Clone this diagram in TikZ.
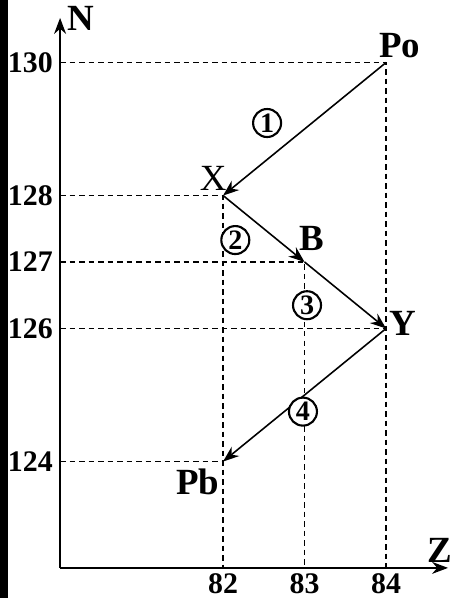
\documentclass[tikz,border=0pt]{standalone}
\usepackage{fontspec}
\setmainfont{Liberation Serif}
\usetikzlibrary{arrows.meta}

\begin{document}
\begin{tikzpicture}[x=1.63cm,y=1.33cm,
   axis/.style={-{Stealth[length=3.2mm,width=2.4mm]},line width=0.8pt},
   decay/.style={-{Stealth[length=3.2mm,width=2.4mm]},line width=0.9pt},
   guide/.style={dash pattern=on 0.11cm off 0.08cm,line width=0.95pt},
   tag/.style={font=\fontsize{21}{23}\selectfont\bfseries,inner sep=0pt},
   tick/.style={font=\fontsize{17}{19}\selectfont\bfseries,inner sep=0pt},
   stepnum/.style={draw,circle,fill=white,line width=1.2pt,minimum size=0.56cm,inner sep=0pt,font=\fontsize{16}{18}\selectfont\bfseries}]

   \useasboundingbox (79.2638,121.9489) rectangle (84.7853,130.9414);
   \fill[black] (79.2638,121.9489) rectangle (79.3620,130.9414);

   % axes
   \coordinate (O) at (80,122.4);
   \coordinate (Ntop) at (80,130.67);
   \coordinate (Zend) at (84.76,122.4);
   \draw[axis] (O) -- (Ntop);
   \draw[axis] (O) -- (Zend);
   \node[tag] (Nlab) at (80.25,130.67) {N};
   \node[tag] (Zlab) at (84.66,122.67) {Z};

   % nuclides
   \coordinate (Po) at (84,130);
   \coordinate (X) at (82,128);
   \coordinate (B) at (83,127);
   \coordinate (Y) at (84,126);
   \coordinate (Pb) at (82,124);

   \draw[guide] (O |- Po) -- (Po) -- (O -| Po);
   \draw[guide] (O |- X) -- (X) -- (O -| X);
   \draw[guide] (O |- B) -- (B) -- (O -| B);
   \draw[guide] (O |- Y) -- (Y);
   \draw[guide] (O |- Pb) -- (Pb);

   \node[tick,anchor=east] (n130) at ([xshift=-0.14cm]O |- Po) {130};
   \node[tick,anchor=east] (n128) at ([xshift=-0.14cm]O |- X) {128};
   \node[tick,anchor=east] (n127) at ([xshift=-0.14cm]O |- B) {127};
   \node[tick,anchor=east] (n126) at ([xshift=-0.14cm]O |- Y) {126};
   \node[tick,anchor=east] (n124) at ([xshift=-0.14cm]O |- Pb) {124};
   \node[tick] (z82) at ([yshift=-0.31cm]O -| X) {82};
   \node[tick] (z83) at ([yshift=-0.31cm]O -| B) {83};
   \node[tick] (z84) at ([yshift=-0.31cm]O -| Po) {84};

   % decay chain
   \draw[decay] (Po) -- (X);
   \draw[decay] (X) -- (B);
   \draw[decay] (B) -- (Y);
   \draw[decay] (Y) -- (Pb);

   \node[tag] (lPo) at (84.17,130.26) {Po};
   \node[tag,font=\fontsize{21}{23}\selectfont] (lX) at (81.88,128.26) {X};
   \node[tag] (lB) at (83.09,127.36) {B};
   \node[tag] (lY) at (84.20,126.08) {Y};
   \node[tag] (lPb) at (81.69,123.69) {Pb};

   \node[stepnum] (s1) at (82.54,129.09) {1};
   \node[stepnum] (s2) at (82.15,127.33) {2};
   \node[stepnum] (s3) at (83.03,126.35) {3};
   \node[stepnum] (s4) at (82.98,124.75) {4};
\end{tikzpicture}
\end{document}
